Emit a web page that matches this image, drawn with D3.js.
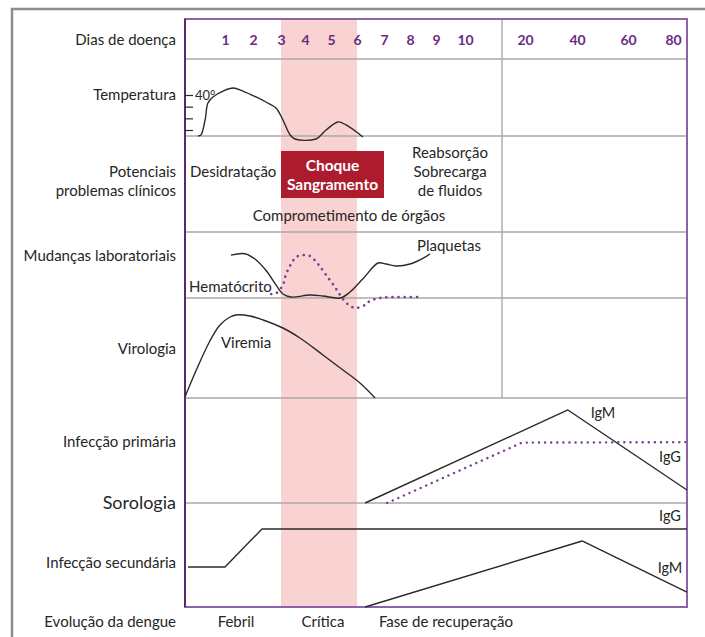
<!DOCTYPE html>
<html><head><meta charset="utf-8">
<script src="https://cdn.jsdelivr.net/npm/d3@7"></script>
<style>
body{margin:0;background:#fff}
svg{display:block}
text{font-family:Lato,"Open Sans","Noto Sans",sans-serif;fill:#262626}
</style>
</head><body>
<svg id="c" width="705" height="637"></svg>
<script>
// ---------- DATA ----------
const dayTicks = [1,2,3,4,5,6,7,8,9,10,20,40,60,80];
const dayTickLabels = ["1","2","3","4","5","6","7","8","9","10","20","40","60","80"];
const tempTicks = [37,38,39,40];
const rowLabels = ["Dias de doença","Temperatura","Potenciais","problemas clínicos","Mudanças laboratoriais","Virologia","Infecção primária","Sorologia","Infecção secundária","Evolução da dengue"];
const phaseLabels = ["Febril","Crítica","Fase de recuperação"];
const criticalPhase = [3,6];
// temperature: [day, °C]
const temperature = [[0.04,36.49],[0.14,36.57],[0.29,37.86],[0.39,39.31],[0.57,39.83],[0.93,40.34],[1.29,40.6],[1.64,40.34],[2.11,39.83],[2.46,39.4],[2.82,38.89],[3.08,37.86],[3.38,36.57],[3.58,36.23],[4.42,36.23],[4.81,37.0],[5.27,37.69],[5.58,37.43],[6.22,36.4]];
// platelets (solid) and hematocrit (dotted), relative level 0-100
const platelets = [[1.21,65],[1.71,67],[2.07,59],[2.46,42],[2.82,20],[3.08,6],[3.42,1.5],[4.19,4.5],[4.69,3],[5.35,0],[5.73,9],[6.22,29],[6.78,53],[7.08,51.5],[7.46,48.5],[8.0,51.5],[8.58,62],[8.77,67]];
const hematocrit = [[2.65,6],[2.84,7.6],[3.08,20],[3.21,36],[3.42,51.5],[3.63,62],[3.92,65],[4.19,63.6],[4.5,51.5],[4.81,35],[5.15,16.7],[5.46,-1.5],[5.73,-12],[5.96,-15],[6.3,-10.6],[6.48,-4.5],[6.85,0],[7.31,1.5],[7.81,1.5],[8.38,1.5]];
// viremia, relative level 0-100
const viremia = [[-0.43,1],[-0.04,27],[0.46,57],[0.82,73],[1.18,81],[1.39,83],[1.89,82],[2.36,78],[3.08,70],[3.79,60],[4.69,43],[5.46,28],[6.11,15],[6.67,0]];
// serology, relative level 0-100
const primaryIgM = [[6.3,0],[36.5,88.6],[86.2,12.4]];
const primaryIgG = [[7.12,0],[19.5,57.5],[86.2,58]];
const secondaryIgG = [[-0.32,38.5],[1.0,38.5],[2.32,75],[86.2,75]];
const secondaryIgM = [[6.3,0],[42.0,63.5],[86.2,14.4]];
const clinicalLeft = ["Desidratação"];
const clinicalBox = ["Choque","Sangramento"];
const clinicalRight = ["Reabsorção","Sobrecarga","de fluidos"];
const clinicalBottom = ["Comprometimento de órgãos"];
const seroLabels = ["IgM","IgG","IgG","IgM"];

// ---------- LAYOUT ----------
const box = {left:185, right:687, top:19, bottom:607};
const rowLines = [59,136,232,298,398,503];
const splitX = 502;
const purple = "#6a2d82";
const grid = "#a9a9a9";
const ink = "#2a2a2a";

const svg = d3.select("#c");

const x = d3.scaleLinear()
  .domain(dayTicks)
  .range([225,253,281,305,331,357,384,410,436,465,525,577,628,673]);
const yTemp = d3.scaleLinear().domain([37,40]).range([130,95]);
const yLab = d3.scaleLinear().domain([0,100]).range([298,232]);
const yVir = d3.scaleLinear().domain([0,100]).range([398,298]);
const yPri = d3.scaleLinear().domain([0,100]).range([503,398]);
const ySec = d3.scaleLinear().domain([0,100]).range([607,503]);

// outer gray frame
svg.append("path").attr("d",`M12,637V9H705`).attr("fill","none").attr("stroke","#8d8d8d").attr("stroke-width",2.5);

// pink critical band
svg.append("rect").attr("x",x(criticalPhase[0])).attr("y",box.top)
  .attr("width",x(criticalPhase[1])-x(criticalPhase[0])).attr("height",box.bottom-box.top)
  .attr("fill","#f9d2d2");

// grid lines
svg.selectAll("line.row").data(rowLines).join("line")
  .attr("x1",box.left).attr("x2",box.right).attr("y1",d=>d).attr("y2",d=>d)
  .attr("stroke",grid).attr("stroke-width",1.4);
svg.append("line").attr("x1",splitX).attr("x2",splitX).attr("y1",box.top).attr("y2",rowLines[4])
  .attr("stroke",grid).attr("stroke-width",1.4);

// purple frame
svg.append("rect").attr("x",box.left).attr("y",box.top).attr("width",box.right-box.left).attr("height",box.bottom-box.top)
  .attr("fill","none").attr("stroke","#8e62a8").attr("stroke-width",2);
svg.append("line").attr("x1",box.left).attr("x2",box.left).attr("y1",box.top).attr("y2",box.bottom)
  .attr("stroke","#5c2670").attr("stroke-width",2);

// day axis
const ax = svg.append("g").attr("transform","translate(0,40)")
  .call(d3.axisBottom(x).tickValues(dayTicks).tickFormat((d,i)=>dayTickLabels[i]).tickSize(0).tickPadding(0));
ax.select(".domain").remove();
ax.selectAll("text").attr("y",0).attr("dy","0.35em")
  .style("font-size","14px").style("font-weight","700").style("fill",purple).style("font-family","Lato, sans-serif");

// temperature axis (inner ticks)
const tax = svg.append("g").attr("transform",`translate(${box.left},0)`)
  .call(d3.axisRight(yTemp).tickValues(tempTicks).tickSize(8).tickPadding(2).tickFormat(d=>d===40?"40°":""));
tax.select(".domain").remove();
tax.selectAll("line").attr("stroke",ink).attr("stroke-width",1.2);
tax.selectAll("text").style("font-size","13px").style("fill",ink).style("font-family","Lato, sans-serif");

// curves
const curve = d3.curveCatmullRom.alpha(0.5);
function drawLine(data, y, opts={}){
  const gen = d3.line().x(d=>x(d[0])).y(d=>y(d[1])).curve(opts.curve||curve);
  const p = svg.append("path").attr("d",gen(data)).attr("fill","none")
    .attr("stroke",opts.color||ink).attr("stroke-width",opts.width||1.4)
    .attr("stroke-linejoin","round");
  if(opts.dotted){ p.attr("stroke-dasharray","0.1 6").attr("stroke-linecap","round"); }
  return p;
}
drawLine(temperature, yTemp);
drawLine(platelets, yLab);
drawLine(hematocrit, yLab, {dotted:true, color:"#7a3f93", width:2.6});
drawLine(viremia, yVir);
drawLine(primaryIgM, yPri, {curve:d3.curveLinear});
drawLine(primaryIgG, yPri, {curve:d3.curveLinear, dotted:true, color:"#7a3f93", width:2.4});
drawLine(secondaryIgG, ySec, {curve:d3.curveLinear});
drawLine(secondaryIgM, ySec, {curve:d3.curveLinear});

// Choque box
svg.append("rect").attr("x",x(3)).attr("y",151).attr("width",x(7)-x(3)).attr("height",47).attr("fill","#ad1c2e");

// texts
function txt(s, tx, ty, anchor, size, extra={}){
  const t = svg.append("text").attr("x",tx).attr("y",ty).attr("dy","0.35em")
    .attr("text-anchor",anchor).style("font-size",size+"px").text(s);
  if(extra.weight) t.style("font-weight",extra.weight);
  if(extra.fill) t.style("fill",extra.fill);
  return t;
}
const rowY = [40,95,172,191,256,349,442,503,563,622];
rowLabels.forEach((s,i)=>txt(s,176,rowY[i],"end", s==="Sorologia"?18:15));

txt(clinicalLeft[0],190,172,"start",15);
txt(clinicalBox[0],(x(3)+x(7))/2,166,"middle",15.5,{weight:700,fill:"#fff"});
txt(clinicalBox[1],(x(3)+x(7))/2,185,"middle",15.5,{weight:700,fill:"#fff"});
clinicalRight.forEach((s,i)=>txt(s,450,153+i*19,"middle",15));
txt(clinicalBottom[0],349,216,"middle",15);

txt("Hematócrito",189,287,"start",15);
txt("Plaquetas",417,246,"start",15);
txt("Viremia",246,343,"middle",15);

const seroPos = [[603,413],[670,457],[670,516],[670,568]];
seroLabels.forEach((s,i)=>txt(s,seroPos[i][0],seroPos[i][1],"middle",14.5));

const phaseX = [236,323,446];
phaseLabels.forEach((s,i)=>txt(s,phaseX[i],622,"middle",15));
</script>
</body></html>
